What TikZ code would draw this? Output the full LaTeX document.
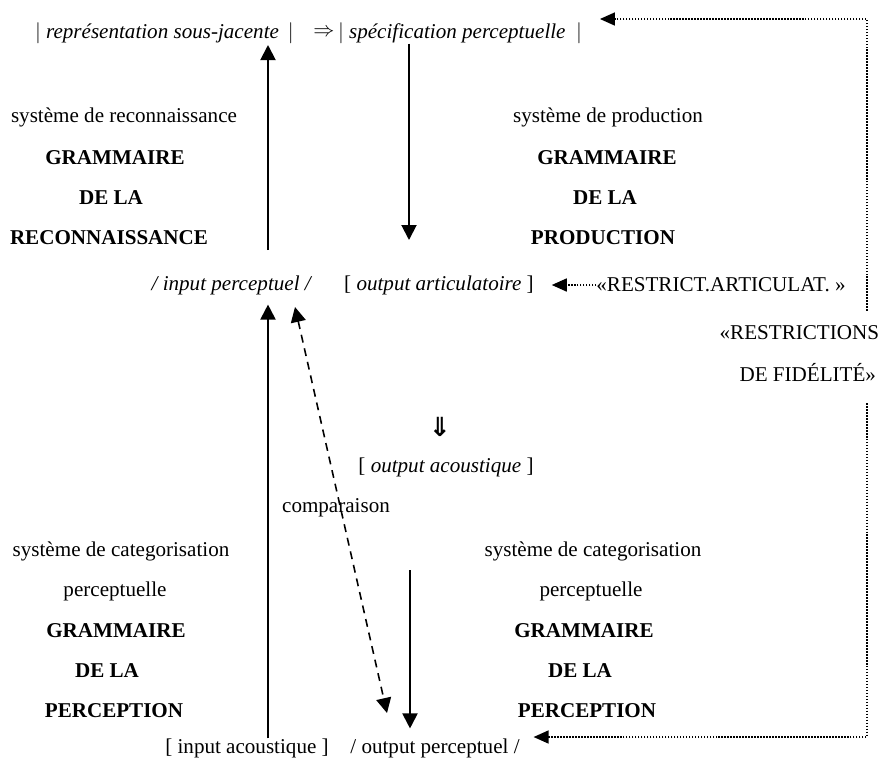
\documentclass[tikz,border=0pt]{standalone}
\usepackage{fontspec}
\setmainfont{Liberation Serif}
\newfontfamily\symbfont{DejaVu Sans}
\usetikzlibrary{arrows.meta,calc}

\begin{document}
\begin{tikzpicture}[x=0.02cm,y=-0.02cm,
  font=\fontsize{12}{14}\selectfont,
  every node/.append style={inner sep=0pt, outer sep=0pt},
  gram/.style={font=\fontsize{12}{14}\selectfont\bfseries},
  arr/.style={-{Triangle[length=3mm,width=3mm]}, line width=1.1pt},
  cmp/.style={{Triangle[length=3mm,width=3mm]}-{Triangle[length=3mm,width=3mm]}, line width=0.9pt, dash pattern=on 4.5pt off 3.4pt},
  fb/.style={-{Triangle[length=3mm,width=2.6mm]}, line width=0.9pt, dash pattern=on 0.9pt off 0.8pt},
]
\useasboundingbox (0,0) rectangle (883,762);
% top row
\node[anchor=west] (rep) at (35,33) {$\big|$\ \textit{représentation sous-jacente}\ \,$\big|$};
\node (impl) at (324,33) {$\Rightarrow$};
\node[anchor=west] (spec) at (338,33) {$\big|$\ \textit{spécification perceptuelle}\ \ $\big|$};
% recognition / production
\node (sysrec) at (124,117) {système de reconnaissance};
\node[gram] (gramrec) at (115,158) {GRAMMAIRE};
\node[gram] (delarec) at (111,198) {DE LA};
\node[gram] (recon) at (109,238) {RECONNAISSANCE};
\node (sysprod) at (608,117) {système de production};
\node[gram] (gramprod) at (607,158) {GRAMMAIRE};
\node[gram] (delaprod) at (605,198) {DE LA};
\node[gram] (prod) at (603,238) {PRODUCTION};
% middle
\node (inperc) at (232,285) {\textit{/ input perceptuel /}};
\node (outart) at (439,285) {[ \textit{output articulatoire} ]};
\node (restart) at (721,285) {«RESTRICT.ARTICULAT.~»};
\node[anchor=east] (restr) at (879,333) {«RESTRICTIONS};
\node[anchor=east] (fid) at (876,372) {DE FIDÉLITÉ»};
\node (dblarr) at (440,427) {\fontsize{15}{17}\selectfont\symbfont\bfseries ⇓};
\node (outac) at (446,467) {[ \textit{output acoustique} ]};
\node (comp) at (336,508) {comparaison};
% perception
\node (syscatl) at (121,551) {système de categorisation};
\node (percl) at (115,591) {perceptuelle};
\node[gram] (graml) at (116,631) {GRAMMAIRE};
\node[gram] (delal) at (107,671) {DE LA};
\node[gram] (percepl) at (114,711) {PERCEPTION};
\node (syscatr) at (593,551) {système de categorisation};
\node (percr) at (591,591) {perceptuelle};
\node[gram] (gramr) at (584,631) {GRAMMAIRE};
\node[gram] (delar) at (580,671) {DE LA};
\node[gram] (perceprr) at (587,711) {PERCEPTION};
% bottom row
\node (inac) at (247,748) {[ input acoustique ]};
\node (outperc) at (435,748) {/ output perceptuel /};
% free ends
\coordinate (upx) at (268,0);
\coordinate (dnx) at (409,0);
\coordinate (fbx) at (867,0);
\coordinate (recstart) at (268,250);
\coordinate (prodend) at (409,240);
\coordinate (catstart) at (410,570);
\coordinate (cmpa) at (295,307);
\coordinate (cmpb) at (387,713);
\coordinate (fbtop) at (867,19);
\coordinate (fbbot) at (867,737);
\coordinate (reptip) at (268,45);
% arrows
\draw[arr] (recstart) -- (reptip);
\draw[arr] (spec.south -| dnx) -- (prodend);
\draw[arr, shorten >=2mm] (inac.north -| upx) -- (inperc.south -| upx);
\draw[arr, shorten >=2mm] (catstart) -- (outperc.north -| catstart);
\draw[cmp] (cmpa) -- (cmpb);
% feedback
\draw[fb, shorten >=3.6mm] (restart.west) -- (outart.east);
\draw[fb, shorten <=3mm, shorten >=3.6mm] (restr.north -| fbx) -- (fbtop) -- (fbtop -| spec.east);
\draw[fb, shorten <=4.4mm, shorten >=2.8mm] (fid.south -| fbx) -- (fbbot) -- (fbbot -| outperc.east);
\end{tikzpicture}
\end{document}
